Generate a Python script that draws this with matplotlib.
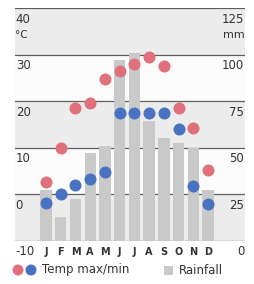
import matplotlib
matplotlib.use("Agg")
import matplotlib.pyplot as plt
from matplotlib.patches import Rectangle, Ellipse

months = ["J", "F", "M", "A", "M", "J", "J", "A", "S", "O", "N", "D"]
temp_max = [2.6, 9.8, 18.5, 19.6, 24.7, 26.5, 28.0, 29.4, 27.6, 18.6, 14.3, 5.1]
temp_min = [-2.0, 0.0, 1.9, 3.2, 4.7, 17.4, 17.4, 17.5, 17.5, 13.9, 1.8, -2.2]
rainfall = [27, 12.5, 22.5, 47, 51, 97, 101, 64, 55, 52.5, 50, 27]
temp_ticks = [40, 30, 20, 10, 0, -10]
rain_ticks = [125, 100, 75, 50, 25, 0]

W, H = 254, 284
fig = plt.figure(figsize=(W / 100, H / 100), dpi=100)
fig.patch.set_facecolor("white")

left, right = 15 / W, 245 / W
top_px, bot_px = 8, 240.5
ax = fig.add_axes([left, (H - bot_px) / H, right - left, (bot_px - top_px) / H])
ax.set_xlim(-2.1, 13.5)
ax.set_ylim(0, 125)
ax.axis("off")

ax2 = ax.twinx()
ax2.set_ylim(-10, 40)
ax2.set_xlim(-2.1, 13.5)
ax2.axis("off")

# background bands (rainfall units on primary axis, behind bars)
band_gray = "#ececec"
band_white = "#fbfbfb"
for i in range(5):
    lo, hi = rain_ticks[i + 1], rain_ticks[i]
    ax.axhspan(lo, hi, color=band_gray if i % 2 == 0 else band_white, zorder=0, lw=0)

for r in rain_ticks:
    ax.axhline(r, color="#606060", lw=0.9, zorder=0.5)

x = list(range(12))
ax.bar(x, rainfall, width=0.77, color="#c9c9c9", zorder=1, linewidth=0)

ax2.scatter(x, temp_max, s=75, color="#e0707c", zorder=5, linewidths=0)
ax2.scatter(x, temp_min, s=75, color="#4a72c2", zorder=5, linewidths=0)

tc = "#333333"
for t, r in zip(temp_ticks, rain_ticks):
    ax2.annotate(str(t), xy=(0, t), xycoords=("axes fraction", "data"),
                 xytext=(0.5, -3.5), textcoords="offset points",
                 ha="left", va="top", fontsize=8.5, color=tc)
    ax2.annotate(str(r), xy=(1, t), xycoords=("axes fraction", "data"),
                 xytext=(-0.5, -3.5), textcoords="offset points",
                 ha="right", va="top", fontsize=8.5, color=tc)

ax2.annotate("°C", xy=(0, 40), xycoords=("axes fraction", "data"),
             xytext=(0.0, -15.5), textcoords="offset points",
             ha="left", va="top", fontsize=7.5, color=tc)
ax2.annotate("mm", xy=(1, 40), xycoords=("axes fraction", "data"),
             xytext=(-0.5, -15.5), textcoords="offset points",
             ha="right", va="top", fontsize=8, color=tc)

for i, m in enumerate(months):
    ax2.annotate(m, xy=(i, -10), xycoords="data",
                 xytext=(0, -4.5), textcoords="offset points",
                 ha="center", va="top", fontsize=7, fontweight="bold", color=tc)

# legend
ly = (H - 270) / H
fig.add_artist(Ellipse((18 / W, ly), 11 / W, 11 / H,
                       transform=fig.transFigure, color="#e0707c", lw=0))
fig.add_artist(Ellipse((31 / W, ly), 11 / W, 11 / H,
                       transform=fig.transFigure, color="#4a72c2", lw=0))
fig.text(42 / W, ly, "Temp max/min", ha="left", va="center", fontsize=8.5, color=tc)
fig.add_artist(Rectangle((164 / W, ly - 5 / H), 9 / W, 9 / H,
                         transform=fig.transFigure, color="#c9c9c9", lw=0))
fig.text(179 / W, ly, "Rainfall", ha="left", va="center", fontsize=8.5, color=tc)

fig.savefig("out.png", dpi=100)
